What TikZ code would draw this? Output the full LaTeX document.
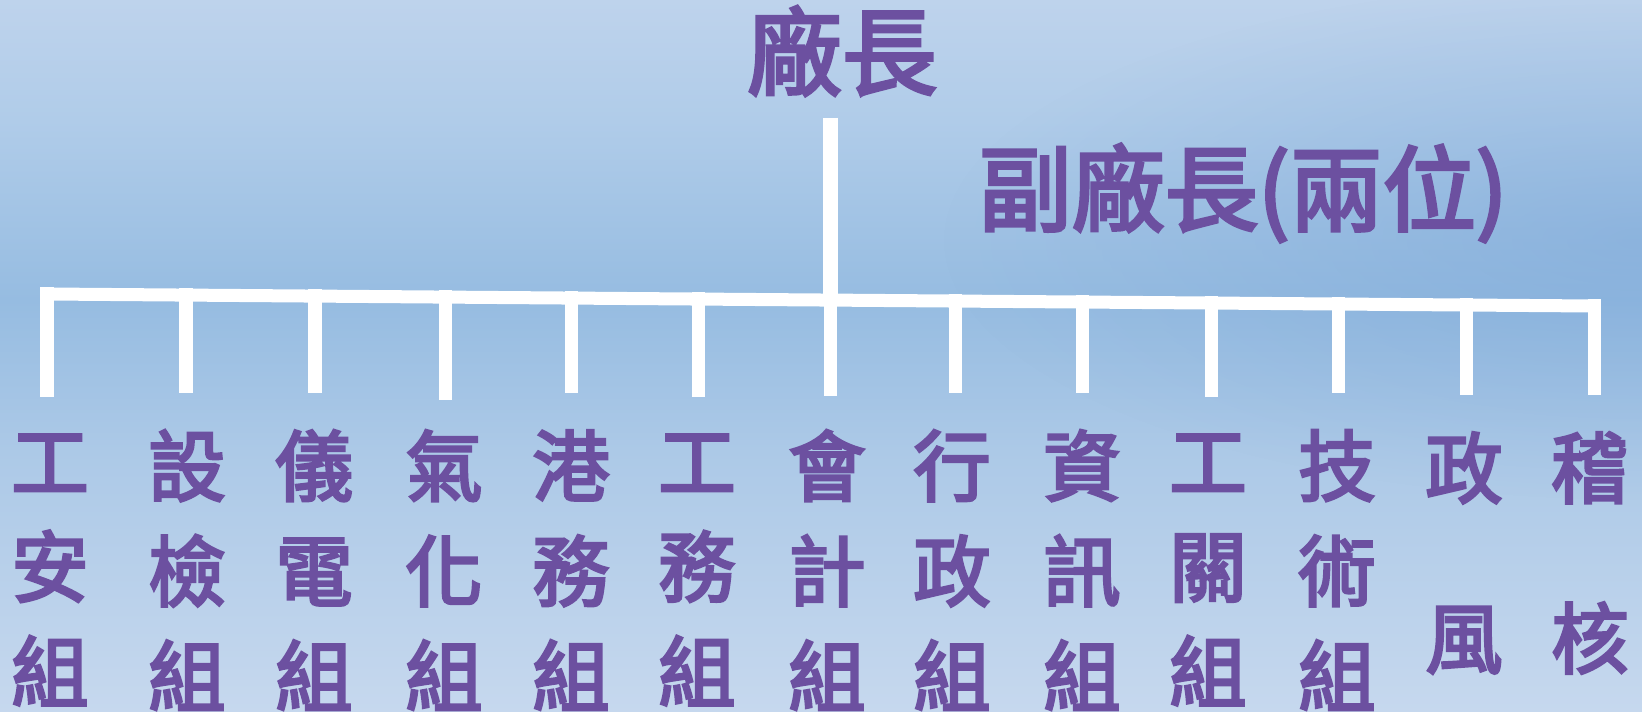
\documentclass[tikz,border=0pt]{standalone}
\usepackage{fontspec}
\usepackage{tikz}
\usetikzlibrary{fadings}
\newfontfamily\cjk{Noto Sans CJK TC}[FakeBold=3.5]
\definecolor{ink}{RGB}{108,80,160}
\definecolor{skytop}{RGB}{190,211,236}
\definecolor{skyhigh}{RGB}{176,204,233}
\definecolor{skybar}{RGB}{150,188,225}
\definecolor{skytext}{RGB}{172,201,231}
\definecolor{skylow}{RGB}{198,216,238}
\definecolor{skyright}{RGB}{118,163,214}
\tikzfading[name=softblob, inner color=transparent!0, outer color=transparent!100]

\begin{document}
\begin{tikzpicture}[
    x=0.01cm, y=-0.01cm,
    bar/.style={draw=white, line width=0.13cm, line cap=rect},
    stem/.style={draw=white, line width=0.15cm},
    chiefbox/.style={text=ink, inner sep=0pt, font=\cjk\fontsize{27pt}{32pt}\selectfont},
    vicebox/.style={text=ink, inner sep=0pt, font=\cjk\fontsize{26.5pt}{31pt}\selectfont},
    grp/.style={text=ink, inner sep=0pt, align=center, font=\cjk\fontsize{22pt}{29.9pt}\selectfont}
]
\useasboundingbox (0,0) rectangle (1642,712);
% background
\shade[top color=skytop, bottom color=skyhigh] (0,0) rectangle (1642,120);
\shade[top color=skyhigh, bottom color=skybar] (0,120) rectangle (1642,300);
\shade[top color=skybar, bottom color=skytext] (0,300) rectangle (1642,450);
\shade[top color=skytext, bottom color=skylow] (0,450) rectangle (1642,712);
\begin{scope}
\clip (0,0) rectangle (1642,712);
\fill[skyright, path fading=softblob, fill opacity=0.45] (1642,240) ellipse (700 and 260);
\end{scope}

\node[chiefbox] at (842, 51) (chief) {廠長};
\node[vicebox] at (1243, 193) (vice) {副廠長(兩位)};

\coordinate (b1) at (47, 294);
\coordinate (b2) at (186, 295);
\coordinate (b3) at (315, 296);
\coordinate (b4) at (445, 297);
\coordinate (b5) at (571, 298);
\coordinate (b6) at (698, 299);
\coordinate (b7) at (830, 300);
\coordinate (b8) at (955, 301);
\coordinate (b9) at (1082, 302);
\coordinate (b10) at (1211, 303);
\coordinate (b11) at (1338, 304);
\coordinate (b12) at (1466, 305);
\coordinate (b13) at (1594, 306);

\node[grp] at (50, 570) (g1) {工\\安\\組};
\node[grp] at (187, 570) (g2) {設\\檢\\組};
\node[grp] at (314, 570) (g3) {儀\\電\\組};
\node[grp] at (444, 570) (g4) {氣\\化\\組};
\node[grp] at (571, 570) (g5) {港\\務\\組};
\node[grp] at (697, 570) (g6) {工\\務\\組};
\node[grp] at (827, 570) (g7) {會\\計\\組};
\node[grp] at (952, 570) (g8) {行\\政\\組};
\node[grp] at (1082, 570) (g9) {資\\訊\\組};
\node[grp] at (1208, 570) (g10) {工\\關\\組};
\node[grp] at (1337, 570) (g11) {技\\術\\組};
\node[grp] at (1464, 553) (g12) {政\\[18.5pt]風};
\node[grp] at (1590, 553) (g13) {稽\\[18.5pt]核};

\draw[stem, shorten <=0.21cm] (chief.south -| b7) -- (b7);
\draw[bar] (b1)--(b13);
\draw[bar, shorten >=0.43cm] (b1)--(b1 |- g1.north);
\draw[bar, shorten >=0.43cm] (b2)--(b2 |- g2.north);
\draw[bar, shorten >=0.43cm] (b3)--(b3 |- g3.north);
\draw[bar, shorten >=0.36cm] (b4)--(b4 |- g4.north);
\draw[bar, shorten >=0.43cm] (b5)--(b5 |- g5.north);
\draw[bar, shorten >=0.43cm] (b6)--(b6 |- g6.north);
\draw[bar, shorten >=0.40cm] (b7)--(b7 |- g7.north);
\draw[bar, shorten >=0.43cm] (b8)--(b8 |- g8.north);
\draw[bar, shorten >=0.43cm] (b9)--(b9 |- g9.north);
\draw[bar, shorten >=0.43cm] (b10)--(b10 |- g10.north);
\draw[bar, shorten >=0.43cm] (b11)--(b11 |- g11.north);
\draw[bar, shorten >=0.43cm] (b12)--(b12 |- g12.north);
\draw[bar, shorten >=0.43cm] (b13)--(b13 |- g13.north);
\end{tikzpicture}
\end{document}
